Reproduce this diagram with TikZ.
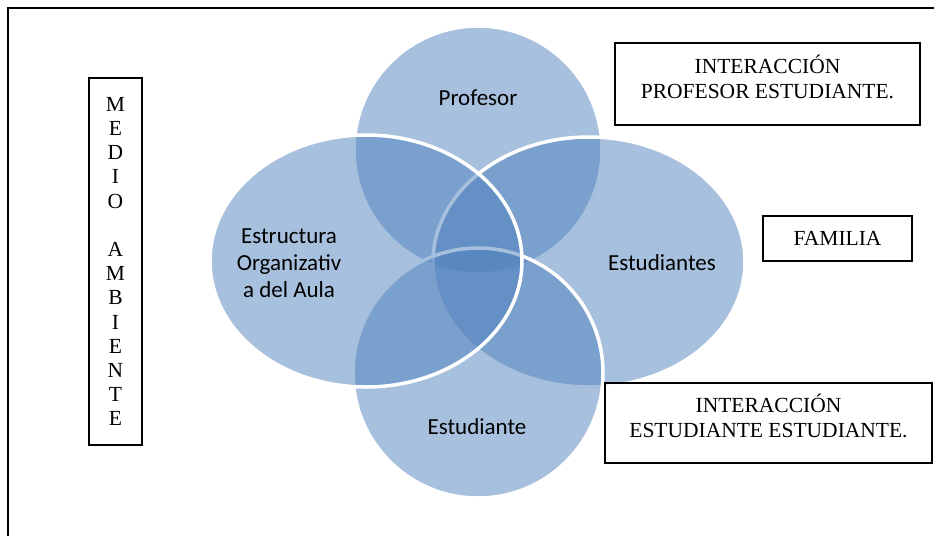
\documentclass[tikz,border=0pt]{standalone}
\usepackage{fontspec}
\setmainfont{Liberation Serif}
\newfontfamily\calibri{Carlito}
\definecolor{accent}{HTML}{4F81BD}
\begin{document}
\begin{tikzpicture}[x=1pt,y=-1pt,
  venn/.style={fill=accent, fill opacity=0.5, draw=white, line width=3.5pt},
  lbl/.style={font=\calibri\fontsize{23}{26.8}\selectfont, align=center, text=black, inner sep=0pt},
  tbox/.style={draw=black, line width=1.5pt, font=\fontsize{21.5}{25}\selectfont, align=center, inner sep=0pt}]
\useasboundingbox (0,0) rectangle (934,536);
% outer frame (continues beyond the picture)
\draw[line width=2pt] (934,7.5) -- (8,7.5) -- (8,536);
% Venn shapes
\path[venn] (478,150) circle [radius=124];
\path[venn] (589,262) ellipse [x radius=156, y radius=125];
\path[venn] (478,373) circle [radius=125];
\path[venn] (366,261) ellipse [x radius=156, y radius=126];
% labels
\node[lbl] (prof) at (478,98) {Profesor};
\node[lbl] (ests) at (662,263) {Estudiantes};
\node[lbl] (estr) at (289,263) {Estructura\\Organizativ\\a del Aula};
\node[lbl] (estu) at (477,427) {Estudiante};
% boxes
\node[tbox, font=\fontsize{21.5}{24.2}\selectfont, minimum width=53pt, minimum height=367pt] (medio) at (115.5,261.5)
  {M\\E\\D\\I\\O\\~\\A\\M\\B\\I\\E\\N\\T\\E};
\node[tbox, text depth=14pt, minimum width=305pt, minimum height=82pt] (ipe) at (767.5,84) {INTERACCIÓN\\PROFESOR ESTUDIANTE.};
\node[tbox, minimum width=149pt, minimum height=45pt] (fam) at (837.5,238.5) {FAMILIA};
\node[tbox, text depth=14pt, minimum width=327pt, minimum height=80pt] (iee) at (768.5,423) {INTERACCIÓN\\ESTUDIANTE ESTUDIANTE.};
\end{tikzpicture}
\end{document}
